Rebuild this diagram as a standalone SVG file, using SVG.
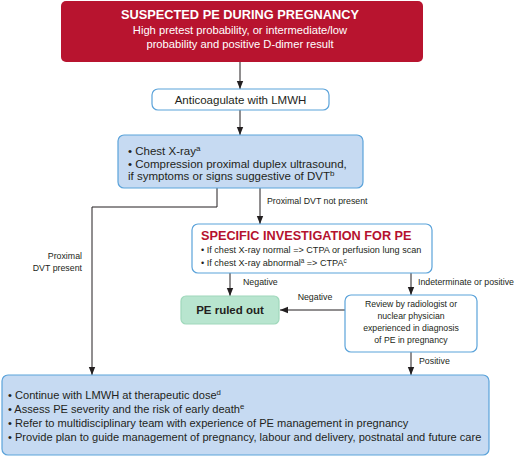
<svg xmlns="http://www.w3.org/2000/svg" width="520" height="458" viewBox="0 0 520 458">
<defs>
<style>
text{font-family:"Liberation Sans",Arial,sans-serif;fill:#231f20}
.w{fill:#fff}
.b{font-weight:bold}
.red{fill:#b5122e}
.wbox{fill:#fff;stroke:#5ba3da;stroke-width:1.2}
.bbox{fill:#c6daf2;stroke:#5ba3da;stroke-width:1.2}
.gbox{fill:#b8e5cf;stroke:#9fd8bb;stroke-width:1.2}
.con{fill:none;stroke:#231f20;stroke-width:1}
.lbl{font-size:8.8px}
.sup{font-size:70%}
</style>
<marker id="ah" viewBox="0 0 8 8" refX="8" refY="4" markerWidth="8" markerHeight="8" markerUnits="userSpaceOnUse" orient="auto">
<path d="M0,0.8 L8,4 L0,7.2 z" fill="#231f20"/>
</marker>
</defs>

<g id="connectors">
<path class="con" d="M240,62 V89" marker-end="url(#ah)"/>
<path class="con" d="M240,110 V135" marker-end="url(#ah)"/>
<path class="con" d="M217,188 V207 H92 V375" marker-end="url(#ah)"/>
<path class="con" d="M260,188 V224" marker-end="url(#ah)"/>
<path class="con" d="M230,273 V296" marker-end="url(#ah)"/>
<path class="con" d="M411,273 V295" marker-end="url(#ah)"/>
<path class="con" d="M345,310 H280" marker-end="url(#ah)"/>
<path class="con" d="M411,352 V375" marker-end="url(#ah)"/>
<text class="lbl" x="267" y="204">Proximal DVT not present</text>
<text class="lbl" x="82" y="259" text-anchor="end">Proximal</text>
<text class="lbl" x="82" y="271" text-anchor="end">DVT present</text>
<text class="lbl" x="243" y="285">Negative</text>
<text class="lbl" x="418" y="285" textLength="96" lengthAdjust="spacingAndGlyphs">Indeterminate or positive</text>
<text class="lbl" x="315" y="300" text-anchor="middle">Negative</text>
<text class="lbl" x="419" y="364">Positive</text>
</g>

<g id="suspected">
<rect x="61" y="1" width="362" height="61" rx="5" fill="#b8142f"/>
<text class="w b" x="240" y="19" text-anchor="middle" font-size="12.8">SUSPECTED PE DURING PREGNANCY</text>
<text class="w" x="240" y="34" text-anchor="middle" font-size="11.2">High pretest probability, or intermediate/low</text>
<text class="w" x="240" y="48" text-anchor="middle" font-size="11.2">probability and positive D-dimer result</text>
</g>

<g id="anticoagulate">
<rect class="wbox" x="152" y="89" width="177" height="21" rx="6"/>
<text x="240.5" y="103.5" text-anchor="middle" font-size="11.5">Anticoagulate with LMWH</text>
</g>

<g id="tests">
<rect class="bbox" x="118" y="135" width="245" height="53" rx="6"/>
<text x="128" y="155" font-size="11.5">• Chest X-ray<tspan class="sup" dy="-4">a</tspan></text>
<text x="128" y="168" font-size="11.5">• Compression proximal duplex ultrasound,</text>
<text x="128" y="180" font-size="11.5">if symptoms or signs suggestive of DVT<tspan class="sup" dy="-4">b</tspan></text>
</g>

<g id="specific">
<rect class="wbox" x="192" y="224" width="240" height="49" rx="6"/>
<text class="red b" x="201" y="240" font-size="12.7">SPECIFIC INVESTIGATION FOR PE</text>
<text x="201" y="253" font-size="9.1">• If chest X-ray normal =&gt; CTPA or perfusion lung scan</text>
<text x="201" y="266" font-size="9.1">• If chest X-ray abnormal<tspan class="sup" dy="-3">a</tspan><tspan dy="3"> =&gt; CTPA</tspan><tspan class="sup" dy="-3">c</tspan></text>
</g>

<g id="ruledout">
<rect class="gbox" x="181" y="296" width="98" height="28" rx="5"/>
<text class="b" x="230" y="314" text-anchor="middle" font-size="11.5">PE ruled out</text>
</g>

<g id="review">
<rect class="wbox" x="345" y="295" width="132" height="57" rx="6"/>
<text x="411" y="307" text-anchor="middle" font-size="8.7">Review by radiologist or</text>
<text x="411" y="319" text-anchor="middle" font-size="8.7">nuclear physician</text>
<text x="411" y="331" text-anchor="middle" font-size="8.7">experienced in diagnosis</text>
<text x="411" y="343" text-anchor="middle" font-size="8.7">of PE in pregnancy</text>
</g>

<g id="management">
<rect class="bbox" x="2" y="375" width="487" height="80" rx="6"/>
<text x="8" y="399" font-size="11.1">• Continue with LMWH at therapeutic dose<tspan class="sup" dy="-4">d</tspan></text>
<text x="8" y="413" font-size="11.1">• Assess PE severity and the risk of early death<tspan class="sup" dy="-4">e</tspan></text>
<text x="8" y="427" font-size="11.1">• Refer to multidisciplinary team with experience of PE management in pregnancy</text>
<text x="8" y="441" font-size="11.1">• Provide plan to guide management of pregnancy, labour and delivery, postnatal and future care</text>
</g>
</svg>
